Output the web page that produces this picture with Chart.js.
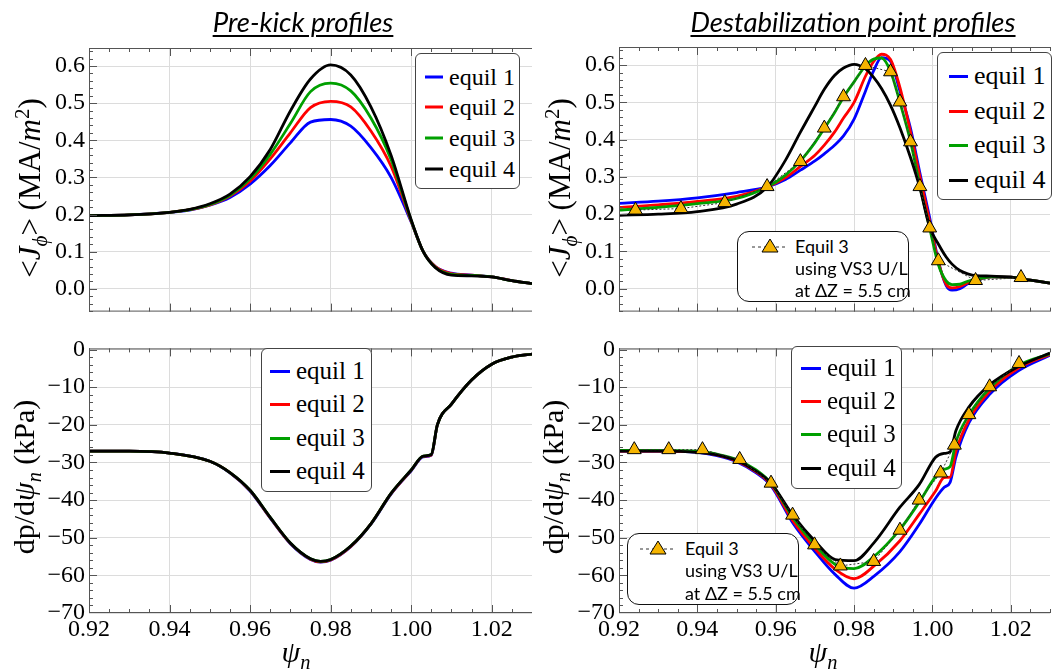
<!DOCTYPE html>
<html>
<head>
<meta charset="utf-8">
<script src="https://cdn.jsdelivr.net/npm/chart.js@4.4.1/dist/chart.umd.min.js"></script>
<style>
  html, body { margin: 0; padding: 0; background: #fff; }
  #wrap { position: relative; width: 1059px; height: 669px; overflow: hidden; background: #fff;
          font-family: 'Liberation Serif', 'Times New Roman', 'DejaVu Serif', serif; }
  canvas { position: absolute; }
  .title { position: absolute; top: 6px; transform: translateX(-50%); font: italic 27.5px Lato; line-height: 32px;
           text-decoration: underline; text-underline-offset: 3px; text-decoration-thickness: 1.5px;
           white-space: nowrap; color: #000; }
  .ytitle { position: absolute; transform: translate(-50%, -50%) rotate(-90deg); white-space: nowrap;
            font-size: 31px; color: #000; }
  .xtitle { position: absolute; transform: translate(-50%, -50%); white-space: nowrap; font-size: 30px; color: #000; }
  sub, sup { font-size: 68%; line-height: 0; }
  .lg { position: absolute; background: #fff; border: 1px solid #444; border-radius: 6px; box-sizing: border-box; color: #000; }
  .lg .row { position: absolute; white-space: nowrap; transform: translateY(-50%); display: flex; align-items: center; }
  .lg .sw { display: inline-block; height: 3px; margin-right: 6px; }
  .note { position: absolute; background: #fff; border: 1.5px solid #111; border-radius: 12px; box-sizing: border-box;
          font: 18px Lato; color: #000; }
  .note .ln { position: absolute; white-space: nowrap; transform: translateY(-50%); }
  .note svg { position: absolute; }
</style>
</head>
<body>
<div id="wrap">
  <canvas id="tl" width="532" height="330" style="left:0;top:0"></canvas>
  <canvas id="tr" width="529" height="330" style="left:530px;top:0"></canvas>
  <canvas id="bl" width="532" height="339" style="left:0;top:330px"></canvas>
  <canvas id="br" width="529" height="339" style="left:530px;top:330px"></canvas>

  <div class="title" style="left:303px">Pre-kick profiles</div>
  <div class="title" style="left:853px">Destabilization point profiles</div>

  <div class="ytitle" style="left:30px;top:188px">&lt;<i>J</i><sub><i>ϕ</i></sub>&gt; (MA/<i>m</i><sup>2</sup>)</div>
  <div class="ytitle" style="left:560px;top:188px">&lt;<i>J</i><sub><i>ϕ</i></sub>&gt; (MA/<i>m</i><sup>2</sup>)</div>
  <div class="ytitle" style="left:24px;top:477px;font-size:30px">dp/d<i>ψ</i><sub><i>n</i></sub> (kPa)</div>
  <div class="ytitle" style="left:553px;top:477px;font-size:30px">dp/d<i>ψ</i><sub><i>n</i></sub> (kPa)</div>
  <div class="xtitle" style="left:296px;top:652px"><i>ψ</i><sub><i>n</i></sub></div>
  <div class="xtitle" style="left:823px;top:652px"><i>ψ</i><sub><i>n</i></sub></div>

  <div class="note" style="left:737px;top:231px;width:172px;height:71px">
    <svg width="36" height="16" style="left:14px;top:6px"><line x1="0" y1="9" x2="36" y2="9" stroke="#333" stroke-dasharray="3,3"/><polygon points="18,1 26,14 10,14" fill="#F5B400" stroke="#000"/></svg>
    <div class="ln" style="left:57px;top:14px">Equil 3</div>
    <div class="ln" style="left:57px;top:36px">using VS3 U/L</div>
    <div class="ln" style="left:57px;top:58px">at ΔZ = 5.5 cm</div>
  </div>
  <div class="note" style="left:627px;top:533px;width:172px;height:72px">
    <svg width="36" height="16" style="left:12px;top:6px"><line x1="0" y1="9" x2="36" y2="9" stroke="#333" stroke-dasharray="3,3"/><polygon points="18,1 26,14 10,14" fill="#F5B400" stroke="#000"/></svg>
    <div class="ln" style="left:57px;top:14px">Equil 3</div>
    <div class="ln" style="left:57px;top:36px">using VS3 U/L</div>
    <div class="ln" style="left:57px;top:59px">at ΔZ = 5.5 cm</div>
  </div>
</div>

<script>
// ---- data ----
const seriesNames = ['equil 1', 'equil 2', 'equil 3', 'equil 4'];
const seriesColors = ['#0000ff', '#ff0000', '#00a000', '#000000'];
const markerLabel = 'Equil 3 using VS3 U/L at ΔZ = 5.5 cm';

const psiTicks = [0.92, 0.94, 0.96, 0.98, 1.00, 1.02];
const jTicks = [0.0, 0.1, 0.2, 0.3, 0.4, 0.5, 0.6];
const dpTicks = [-70, -60, -50, -40, -30, -20, -10, 0];

// pre-kick current density
const psiPreJ = [0.92, 0.93, 0.94, 0.945, 0.95, 0.955, 0.96, 0.965, 0.97, 0.975, 0.98, 0.985, 0.99, 0.995, 1.0, 1.003, 1.006, 1.01, 1.015, 1.02, 1.025, 1.03];
const jPre1 = [0.197, 0.199, 0.206, 0.212, 0.225, 0.246, 0.282, 0.332, 0.393, 0.449, 0.456, 0.438, 0.38, 0.30, 0.18, 0.10, 0.06, 0.042, 0.037, 0.032, 0.022, 0.014];
const jPre2 = [0.197, 0.199, 0.206, 0.213, 0.226, 0.250, 0.290, 0.350, 0.420, 0.488, 0.505, 0.490, 0.425, 0.33, 0.182, 0.10, 0.06, 0.041, 0.037, 0.032, 0.022, 0.014];
const jPre3 = [0.197, 0.199, 0.206, 0.213, 0.227, 0.252, 0.296, 0.362, 0.445, 0.531, 0.554, 0.533, 0.46, 0.348, 0.184, 0.10, 0.058, 0.039, 0.036, 0.032, 0.022, 0.014];
const jPre4 = [0.197, 0.199, 0.206, 0.214, 0.229, 0.255, 0.302, 0.375, 0.479, 0.565, 0.603, 0.576, 0.49, 0.36, 0.186, 0.10, 0.057, 0.037, 0.035, 0.032, 0.022, 0.014];

// pre-kick pressure gradient
const psiPreDp = [0.92, 0.93, 0.94, 0.95, 0.955, 0.96, 0.965, 0.97, 0.975, 0.9775, 0.98, 0.985, 0.99, 0.995, 1.0, 1.003, 1.005, 1.0065, 1.01, 1.015, 1.02, 1.025, 1.03];
const dpPre1 = [-27.0, -27.0, -27.5, -29.7, -32.8, -37.6, -44.8, -51.6, -55.8, -56.5, -56.0, -52.4, -46.4, -38.4, -32.2, -28.5, -28.1, -20.0, -14.5, -8.1, -3.9, -2.0, -1.2];
const dpPre2 = [-27.0, -27.0, -27.5, -29.7, -32.7, -37.5, -44.7, -51.5, -55.7, -56.4, -55.9, -52.3, -46.3, -38.3, -32.1, -28.4, -28.0, -20.0, -14.5, -8.1, -3.9, -2.0, -1.2];
const dpPre3 = [-27.0, -27.0, -27.5, -29.7, -32.7, -37.4, -44.6, -51.4, -55.6, -56.3, -55.8, -52.2, -46.3, -38.2, -32.0, -28.3, -27.9, -20.0, -14.5, -8.1, -3.9, -2.0, -1.2];
const dpPre4 = [-27.0, -27.0, -27.5, -29.7, -32.7, -37.4, -44.6, -51.4, -55.6, -56.3, -55.8, -52.2, -46.3, -38.2, -32.0, -28.3, -27.9, -20.0, -14.5, -8.1, -3.9, -2.0, -1.2];

// destabilization point current density
const psiDestJ = [0.92, 0.93, 0.94, 0.95, 0.9578, 0.9625, 0.9663, 0.97, 0.9724, 0.975, 0.9773, 0.98, 0.9829, 0.985, 0.987, 0.9893, 0.9917, 0.9944, 0.9968, 0.9993, 1.0015, 1.0035, 1.005, 1.007, 1.009, 1.011, 1.015, 1.02, 1.025, 1.03];
const jDest1 = [0.229, 0.235, 0.244, 0.258, 0.273, 0.293, 0.318, 0.343, 0.362, 0.385, 0.41, 0.455, 0.53, 0.585, 0.62, 0.61, 0.53, 0.43, 0.31, 0.19, 0.075, 0.008, -0.004, 0.0, 0.013, 0.022, 0.032, 0.031, 0.023, 0.015];
const jDest2 = [0.218, 0.225, 0.234, 0.248, 0.273, 0.298, 0.328, 0.358, 0.385, 0.42, 0.458, 0.50, 0.57, 0.61, 0.629, 0.615, 0.54, 0.42, 0.30, 0.18, 0.072, 0.012, 0.002, 0.006, 0.016, 0.023, 0.032, 0.031, 0.023, 0.015];
const jDest3 = [0.211, 0.218, 0.228, 0.242, 0.273, 0.305, 0.343, 0.392, 0.43, 0.472, 0.514, 0.555, 0.598, 0.616, 0.619, 0.583, 0.50, 0.395, 0.275, 0.162, 0.065, 0.021, 0.011, 0.012, 0.020, 0.025, 0.032, 0.031, 0.023, 0.015];
const jDest4 = [0.197, 0.200, 0.207, 0.227, 0.272, 0.345, 0.42, 0.49, 0.535, 0.572, 0.592, 0.602, 0.59, 0.567, 0.537, 0.492, 0.432, 0.352, 0.27, 0.165, 0.12, 0.085, 0.066, 0.049, 0.040, 0.035, 0.034, 0.031, 0.023, 0.015];
const psiVs3J = [0.9242, 0.9358, 0.947, 0.9578, 0.9663, 0.9724, 0.9773, 0.9829, 0.9893, 0.9917, 0.9944, 0.9968, 0.9993, 1.0015, 1.011, 1.0226];
const jVs3 = [0.211, 0.215, 0.231, 0.274, 0.341, 0.431, 0.515, 0.599, 0.582, 0.501, 0.394, 0.274, 0.163, 0.075, 0.022, 0.030];

// destabilization point pressure gradient
const psiDestDp = [0.92, 0.93, 0.94, 0.945, 0.95, 0.955, 0.9588, 0.9645, 0.9701, 0.9752, 0.98, 0.9851, 0.9917, 0.9966, 1.0008, 1.003, 1.0045, 1.006, 1.0093, 1.0146, 1.022, 1.03];
const dpDest1 = [-27.0, -27.0, -27.3, -28.2, -29.8, -32.8, -36.2, -46.3, -53.8, -59.8, -63.4, -60.2, -53.7, -46.5, -39.5, -36.6, -35.3, -28.5, -19.5, -11.9, -5.6, -1.5];
const dpDest2 = [-27.0, -27.0, -27.2, -28.0, -29.6, -32.5, -35.9, -45.7, -53.0, -58.4, -60.9, -57.5, -50.8, -43.8, -37.6, -34.0, -33.9, -27.0, -18.7, -11.1, -4.9, -1.3];
const dpDest3 = [-26.8, -26.8, -27.0, -27.8, -29.2, -32.0, -35.5, -44.8, -52.0, -57.1, -58.2, -55.0, -47.8, -40.6, -33.8, -31.8, -31.1, -24.5, -17.4, -10.3, -4.2, -1.1];
const dpDest4 = [-27.0, -27.0, -27.3, -28.0, -29.5, -32.3, -35.5, -44.2, -51.0, -55.8, -56.1, -51.3, -41.9, -35.9, -28.6, -27.6, -27.2, -21.5, -15.3, -9.4, -4.5, -0.9];
const psiVs3Dp = [0.9239, 0.9327, 0.9413, 0.9508, 0.9588, 0.9643, 0.9699, 0.9765, 0.985, 0.9917, 0.9966, 1.0021, 1.0056, 1.0093, 1.0146, 1.0221];
const dpVs3 = [-26.6, -26.6, -26.6, -29.2, -35.5, -44.0, -51.9, -57.5, -56.3, -48.0, -40.0, -32.8, -25.4, -17.3, -9.9, -3.7];

// ---- drawing ----
const serifFamily = "'Liberation Serif', 'Times New Roman', 'DejaVu Serif', serif";
const tickFont = { family: serifFamily, size: 24 };
const gridColor = '#dcdcdc';

function pts(xs, ys) {
  return xs.map((x, i) => ({ x: x, y: ys[i] }));
}

// lower "order" is drawn on top: black over green over red over blue
function curve(xs, ys, i) {
  return {
    label: seriesNames[i],
    data: pts(xs, ys),
    order: 4 - i,
    borderColor: seriesColors[i],
    borderWidth: 2.8,
    pointRadius: 0,
    cubicInterpolationMode: 'monotone',
    fill: false,
  };
}

function markers(xs, ys) {
  return {
    label: markerLabel,
    data: pts(xs, ys),
    order: 0,
    borderColor: '#333',
    borderWidth: 1,
    borderDash: [2, 2],
    tension: 0,
    pointStyle: 'triangle',
    pointRadius: 8,
    pointBackgroundColor: '#F5B400',
    pointBorderColor: '#000',
    pointBorderWidth: 1,
    fill: false,
  };
}

// Mathematica-like frame with inward ticks on left, bottom and top
const framePlugin = {
  id: 'frame',
  afterDatasetsDraw(chart, args, opts) {
    const { ctx, chartArea: a } = chart;
    const xs = chart.scales.x, ys = chart.scales.y;
    ctx.save();
    ctx.strokeStyle = '#555';
    ctx.lineWidth = 1;
    ctx.beginPath();
    ctx.moveTo(a.left + 0.5, a.top);
    ctx.lineTo(a.left + 0.5, a.bottom);
    ctx.moveTo(a.left, a.bottom - 0.5);
    ctx.lineTo(a.right, a.bottom - 0.5);
    ctx.moveTo(a.left, a.top + 0.5);
    ctx.lineTo(a.right, a.top + 0.5);
    for (let i = 0; i <= 22; i++) {
      const px = Math.round(xs.getPixelForValue(0.92 + i * 0.005)) + 0.5;
      const len = i % 4 === 0 ? 8 : 4;
      ctx.moveTo(px, a.bottom);
      ctx.lineTo(px, a.bottom - len);
      ctx.moveTo(px, a.top);
      ctx.lineTo(px, a.top + len);
    }
    for (let k = opts.from; k <= opts.to; k++) {
      const v = k * opts.step;
      const py = Math.round(ys.getPixelForValue(v)) + 0.5;
      if (py < a.top || py > a.bottom) continue;
      const len = k % 5 === 0 ? 8 : 4;
      ctx.moveTo(a.left, py);
      ctx.lineTo(a.left + len, py);
    }
    ctx.stroke();
    ctx.restore();
  }
};

function makePanel(id, datasets, cfg) {
  return new Chart(document.getElementById(id), {
    type: 'line',
    data: { datasets: datasets },
    plugins: [framePlugin],
    options: {
      responsive: false,
      animation: false,
      events: [],
      layout: { padding: { top: cfg.padTop, left: 0, right: 0, bottom: 0 } },
      plugins: {
        legend: { display: false },
        tooltip: { enabled: false },
        frame: cfg.frame,
      },
      scales: {
        x: {
          type: 'linear', min: 0.92, max: 1.03,
          afterBuildTicks: s => { s.ticks = psiTicks.map(v => ({ value: v })); },
          afterFit: s => { s.height = cfg.xHeight; },
          grid: { color: gridColor, drawTicks: false },
          border: { display: false },
          ticks: {
            display: cfg.xLabels, padding: 2, font: tickFont, color: '#000',
            autoSkip: false, maxRotation: 0, callback: v => v.toFixed(2)
          }
        },
        y: {
          type: 'linear', min: cfg.yMin, max: cfg.yMax,
          afterBuildTicks: s => { s.ticks = cfg.yTicks.map(v => ({ value: v })); },
          afterFit: s => { s.width = cfg.yWidth; },
          grid: { color: gridColor, drawTicks: false },
          border: { display: false },
          ticks: {
            padding: 4, font: tickFont, color: '#000', autoSkip: false,
            callback: cfg.yFormat
          }
        }
      }
    }
  });
}

const jFormat = v => v.toFixed(1);
const dpFormat = v => (v < 0 ? '\u2212' + Math.abs(v) : '0');
const jFrame = { from: -3, to: 32, step: 0.02 };
const dpFrame = { from: -35, to: 0, step: 2 };

makePanel('tl', [
  curve(psiPreJ, jPre1, 0), curve(psiPreJ, jPre2, 1), curve(psiPreJ, jPre3, 2), curve(psiPreJ, jPre4, 3)
], { padTop: 48, xHeight: 8, xLabels: false, yMin: -0.0614, yMax: 0.6485, yTicks: jTicks, yWidth: 89, yFormat: jFormat, frame: jFrame });

makePanel('tr', [
  curve(psiDestJ, jDest1, 0), curve(psiDestJ, jDest2, 1), curve(psiDestJ, jDest3, 2), curve(psiDestJ, jDest4, 3),
  markers(psiVs3J, jVs3)
], { padTop: 47, xHeight: 8, xLabels: false, yMin: -0.0614, yMax: 0.6485, yTicks: jTicks, yWidth: 89, yFormat: jFormat, frame: jFrame });

makePanel('bl', [
  curve(psiPreDp, dpPre1, 0), curve(psiPreDp, dpPre2, 1), curve(psiPreDp, dpPre3, 2), curve(psiPreDp, dpPre4, 3)
], { padTop: 7, xHeight: 56, xLabels: true, yMin: -70, yMax: 0.3, yTicks: dpTicks, yWidth: 89, yFormat: dpFormat, frame: dpFrame });

makePanel('br', [
  curve(psiDestDp, dpDest1, 0), curve(psiDestDp, dpDest2, 1), curve(psiDestDp, dpDest3, 2), curve(psiDestDp, dpDest4, 3),
  markers(psiVs3Dp, dpVs3)
], { padTop: 7, xHeight: 56, xLabels: true, yMin: -70, yMax: 0.3, yTicks: dpTicks, yWidth: 89, yFormat: dpFormat, frame: dpFrame });

// legends (HTML boxes)
const legendBoxes = [
  { left: 415, top: 53, w: 105, h: 136, rows: [23, 53, 84, 115], swLeft: 9, swW: 18, font: 24 },
  { left: 937, top: 52, w: 115, h: 148, rows: [23, 58, 92, 127], swLeft: 11, swW: 19, font: 26 },
  { left: 261, top: 348, w: 111, h: 144, rows: [22, 55, 89, 122], swLeft: 8, swW: 20, font: 25 },
  { left: 791, top: 346, w: 111, h: 143, rows: [21, 54, 87, 121], swLeft: 9, swW: 20, font: 25 },
];
const wrap = document.getElementById('wrap');
legendBoxes.forEach(b => {
  const box = document.createElement('div');
  box.className = 'lg';
  box.style.cssText = `left:${b.left}px;top:${b.top}px;width:${b.w}px;height:${b.h}px;font-size:${b.font}px`;
  seriesNames.forEach((name, i) => {
    const row = document.createElement('div');
    row.className = 'row';
    row.style.left = b.swLeft + 'px';
    row.style.top = b.rows[i] + 'px';
    row.innerHTML = `<span class="sw" style="width:${b.swW}px;background:${seriesColors[i]}"></span>${name}`;
    box.appendChild(row);
  });
  wrap.appendChild(box);
});
</script>
</body>
</html>
